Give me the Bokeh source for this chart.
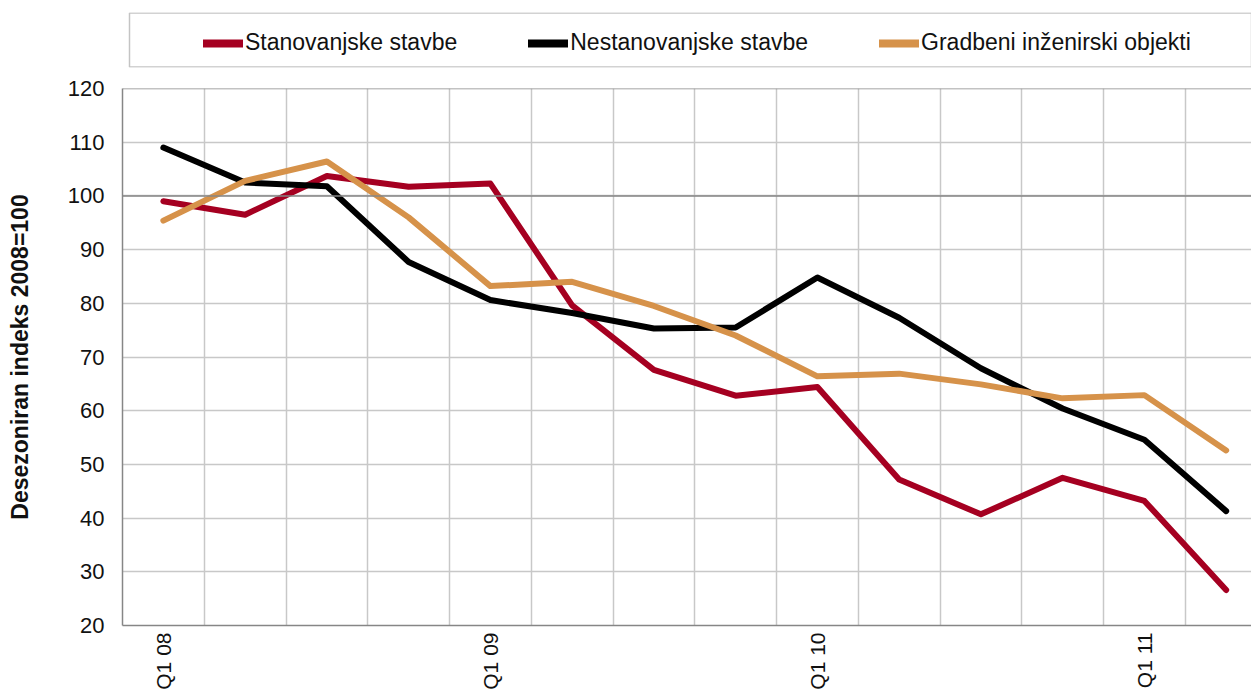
from bokeh.plotting import figure
from bokeh.models import Range1d, FixedTicker, Span, Legend, LegendItem, BoxAnnotation
from bokeh.layouts import column
from bokeh.embed import file_html
from bokeh.resources import INLINE

quarters = ["Q1 08", "Q2 08", "Q3 08", "Q4 08",
            "Q1 09", "Q2 09", "Q3 09", "Q4 09",
            "Q1 10", "Q2 10", "Q3 10", "Q4 10",
            "Q1 11", "Q2 11"]
stanovanjske = [99.0, 96.5, 103.7, 101.7, 102.3, 79.6, 67.6, 62.8, 64.4, 47.2, 40.7, 47.5, 43.2, 26.6]
nestanovanjske = [109.0, 102.5, 101.8, 87.7, 80.6, 78.2, 75.3, 75.5, 84.8, 77.3, 67.9, 60.4, 54.6, 41.3]
gradbeni = [95.4, 102.8, 106.4, 96.0, 83.2, 84.0, 79.5, 74.0, 66.4, 66.9, 64.9, 62.3, 62.9, 52.6]
series_names = ["Stanovanjske stavbe", "Nestanovanjske stavbe", "Gradbeni inženirski objekti"]
colors = ["#A50021", "#000000", "#D6924A"]
y_label = "Desezoniran indeks 2008=100"

FONT = "Liberation Sans"
x_idx = list(range(len(quarters)))

# ---- legend strip ----
pl = figure(width=1251, height=71, output_backend="svg", toolbar_location=None,
            x_axis_type=None, y_axis_type=None,
            x_range=Range1d(0, 1129), y_range=Range1d(0, 55),
            min_border_left=122, min_border_right=0, min_border_top=12, min_border_bottom=4)
pl.xgrid.visible = False
pl.ygrid.visible = False
pl.outline_line_color = None
pl.add_layout(BoxAnnotation(left=7, right=1129, bottom=0.5, top=54.5,
                            fill_alpha=0, line_color="#c4c4c4", line_alpha=1.0, line_width=1.5))
items = []
for name, c in zip(series_names, colors):
    # legend-only renderers, placed outside the visible range
    r = pl.line(x=[-10, -9], y=[-10, -9], line_color=c, line_width=8, line_cap="round")
    items.append(LegendItem(label=name, renderers=[r]))
leg = Legend(items=items, orientation="horizontal", location=(81, 11),
             padding=0, margin=0, spacing=71, glyph_width=40, glyph_height=22,
             label_standoff=2, border_line_color=None, background_fill_alpha=0,
             label_text_font=FONT, label_text_font_size="23px", label_text_color="#111")
pl.add_layout(leg, "center")

# ---- main chart ----
p = figure(width=1251, height=621, output_backend="svg", toolbar_location=None,
           x_range=Range1d(-0.5, 13.31), y_range=Range1d(20, 120),
           min_border_left=122, min_border_right=0, min_border_top=17, min_border_bottom=62)
p.outline_line_color = None

for vals, c in zip([stanovanjske, nestanovanjske, gradbeni], colors):
    p.line(x=x_idx, y=vals, line_color=c, line_width=6, line_join="round", line_cap="round")

p.xaxis.ticker = FixedTicker(ticks=[i for i, q in enumerate(quarters) if q.startswith("Q1")])
p.xaxis.major_label_overrides = {i: q for i, q in enumerate(quarters)}
p.xaxis.major_label_orientation = 3.14159265 / 2
p.xaxis.major_tick_out = 0
p.xaxis.major_tick_in = 0
p.xaxis.minor_tick_out = 0
p.xaxis.minor_tick_in = 0
p.xaxis.major_label_standoff = 7
p.xaxis.axis_line_color = "#868686"
p.xaxis.axis_line_width = 1.5

p.yaxis.ticker = FixedTicker(ticks=list(range(20, 121, 10)))
p.yaxis.major_tick_out = 0
p.yaxis.major_tick_in = 0
p.yaxis.minor_tick_out = 0
p.yaxis.minor_tick_in = 0
p.yaxis.major_label_standoff = 18
p.yaxis.axis_line_color = "#868686"
p.yaxis.axis_line_width = 1.5
p.yaxis.axis_label = y_label
p.yaxis.axis_label_standoff = 32
p.yaxis.axis_label_text_font_style = "bold"
p.yaxis.axis_label_text_font_size = "23px"

for ax in (p.xaxis, p.yaxis):
    ax.major_label_text_font = FONT
    ax.major_label_text_font_size = "22px"
    ax.major_label_text_color = "#111"
    ax.axis_label_text_font = FONT
    ax.axis_label_text_color = "#111"
p.xaxis.major_label_text_font_size = "21px"

p.xgrid.ticker = FixedTicker(ticks=[i + 0.5 for i in range(13)])
p.xgrid.grid_line_color = "#c8c8c8"
p.xgrid.grid_line_width = 1.5
p.ygrid.ticker = FixedTicker(ticks=list(range(30, 111, 10)))
p.ygrid.grid_line_color = "#c8c8c8"
p.ygrid.grid_line_width = 1.5
p.add_layout(Span(location=100, dimension="width", line_color="#868686", line_width=1.5))
p.add_layout(Span(location=120, dimension="width", line_color="#868686", line_width=1.5))

layout = column(pl, p, spacing=0)
open("out.html", "w").write(file_html(layout, INLINE))
